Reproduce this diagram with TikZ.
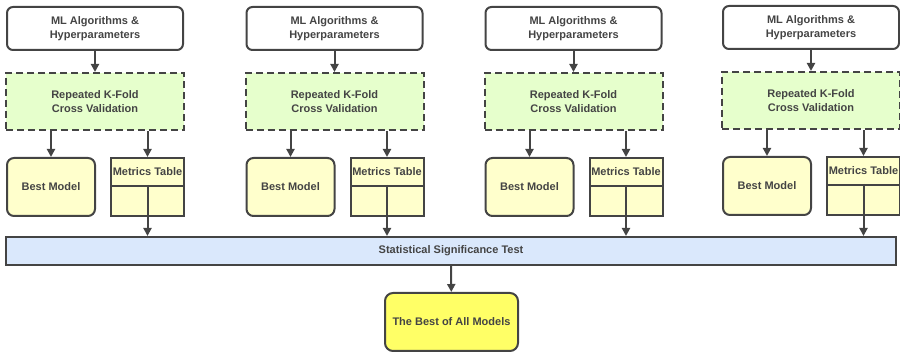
\documentclass[tikz,border=0pt]{standalone}
\usepackage{fontspec}
\setmainfont{Liberation Sans}
\usepackage{tikz}
\usepackage{xcolor}
\usetikzlibrary{arrows.meta}
\definecolor{ink}{HTML}{444444}
\definecolor{cvgreen}{HTML}{E6FFCC}
\definecolor{paleyellow}{HTML}{FFFFCC}
\definecolor{testblue}{HTML}{DAE8FC}
\definecolor{bestyellow}{HTML}{FFFF66}
\tikzstyle{algo} = [rectangle, draw=ink, fill=white, rounded corners=6pt, minimum width=176pt, minimum height=43pt, align=center]
\tikzstyle{cv} = [rectangle, draw=ink, dash pattern=on 7pt off 4pt, fill=cvgreen, minimum width=178pt, minimum height=57pt, align=center]
\tikzstyle{best} = [rectangle, draw=ink, fill=paleyellow, rounded corners=7pt, minimum width=88pt, minimum height=58pt]
\tikzstyle{metric} = [rectangle, draw=ink, fill=paleyellow, minimum width=73pt, minimum height=28pt, inner sep=0pt]
\tikzstyle{sigtest} = [rectangle, draw=ink, fill=testblue, minimum width=890pt, minimum height=28pt]
\tikzstyle{final} = [rectangle, draw=ink, fill=bestyellow, rounded corners=8pt, minimum width=133pt, minimum height=58pt]

\begin{document}
\begin{tikzpicture}[->,>={Stealth[inset=0pt,length=8pt,width=8pt]},line width=2pt,draw=ink,
  x=1pt,y=-1pt,text=ink,font=\bfseries\fontsize{11}{14}\selectfont,node distance=73pt]
  \useasboundingbox (0,0) rectangle (900,355);
  % first column
  \node[algo] (algo1) at (95,28.5) {ML Algorithms \&\\Hyperparameters};
  \node[cv] (cv1) [below of=algo1] {Repeated K-Fold\\Cross Validation};
  \node[best] (best1) [below of=cv1, node distance=85.5pt, xshift=-44pt] {Best Model};
  \node[metric] (head1) [below of=cv1, node distance=70.5pt, xshift=52.5pt] {Metrics Table};
  \node[metric] (cell1) [below of=head1, node distance=29pt, minimum height=30pt] {};
  % second column
  \node[algo] (algo2) at (334.5,28.5) {ML Algorithms \&\\Hyperparameters};
  \node[cv] (cv2) [below of=algo2] {Repeated K-Fold\\Cross Validation};
  \node[best] (best2) [below of=cv2, node distance=85.5pt, xshift=-44pt] {Best Model};
  \node[metric] (head2) [below of=cv2, node distance=70.5pt, xshift=52.5pt] {Metrics Table};
  \node[metric] (cell2) [below of=head2, node distance=29pt, minimum height=30pt] {};
  % third column
  \node[algo] (algo3) at (573.5,28.5) {ML Algorithms \&\\Hyperparameters};
  \node[cv] (cv3) [below of=algo3] {Repeated K-Fold\\Cross Validation};
  \node[best] (best3) [below of=cv3, node distance=85.5pt, xshift=-44pt] {Best Model};
  \node[metric] (head3) [below of=cv3, node distance=70.5pt, xshift=52.5pt] {Metrics Table};
  \node[metric] (cell3) [below of=head3, node distance=29pt, minimum height=30pt] {};
  % fourth column
  \node[algo] (algo4) at (811,27.5) {ML Algorithms \&\\Hyperparameters};
  \node[cv] (cv4) [below of=algo4] {Repeated K-Fold\\Cross Validation};
  \node[best] (best4) [below of=cv4, node distance=85.5pt, xshift=-44pt] {Best Model};
  \node[metric] (head4) [below of=cv4, node distance=70.5pt, xshift=52.5pt] {Metrics Table};
  \node[metric] (cell4) [below of=head4, node distance=29pt, minimum height=30pt] {};
  % comparison
  \node[sigtest] (test) at (451,251) {Statistical Significance Test};
  \node[final] (winner) at (451.5,322) {The Best of All Models};

  \path (algo1) edge (cv1);
  \path (algo2) edge (cv2);
  \path (algo3) edge (cv3);
  \path (algo4) edge (cv4);
  \draw (cv1.south -| best1) -- (best1);
  \draw (cv2.south -| best2) -- (best2);
  \draw (cv3.south -| best3) -- (best3);
  \draw (cv4.south -| best4) -- (best4);
  \draw (cv1.south -| head1) -- (head1);
  \draw (cv2.south -| head2) -- (head2);
  \draw (cv3.south -| head3) -- (head3);
  \draw (cv4.south -| head4) -- (head4);
  \draw (cell1.north) -- (cell1.north |- test.north);
  \draw (cell2.north) -- (cell2.north |- test.north);
  \draw (cell3.north) -- (cell3.north |- test.north);
  \draw (cell4.north) -- (cell4.north |- test.north);
  \path (test) edge (winner);
\end{tikzpicture}
\end{document}
